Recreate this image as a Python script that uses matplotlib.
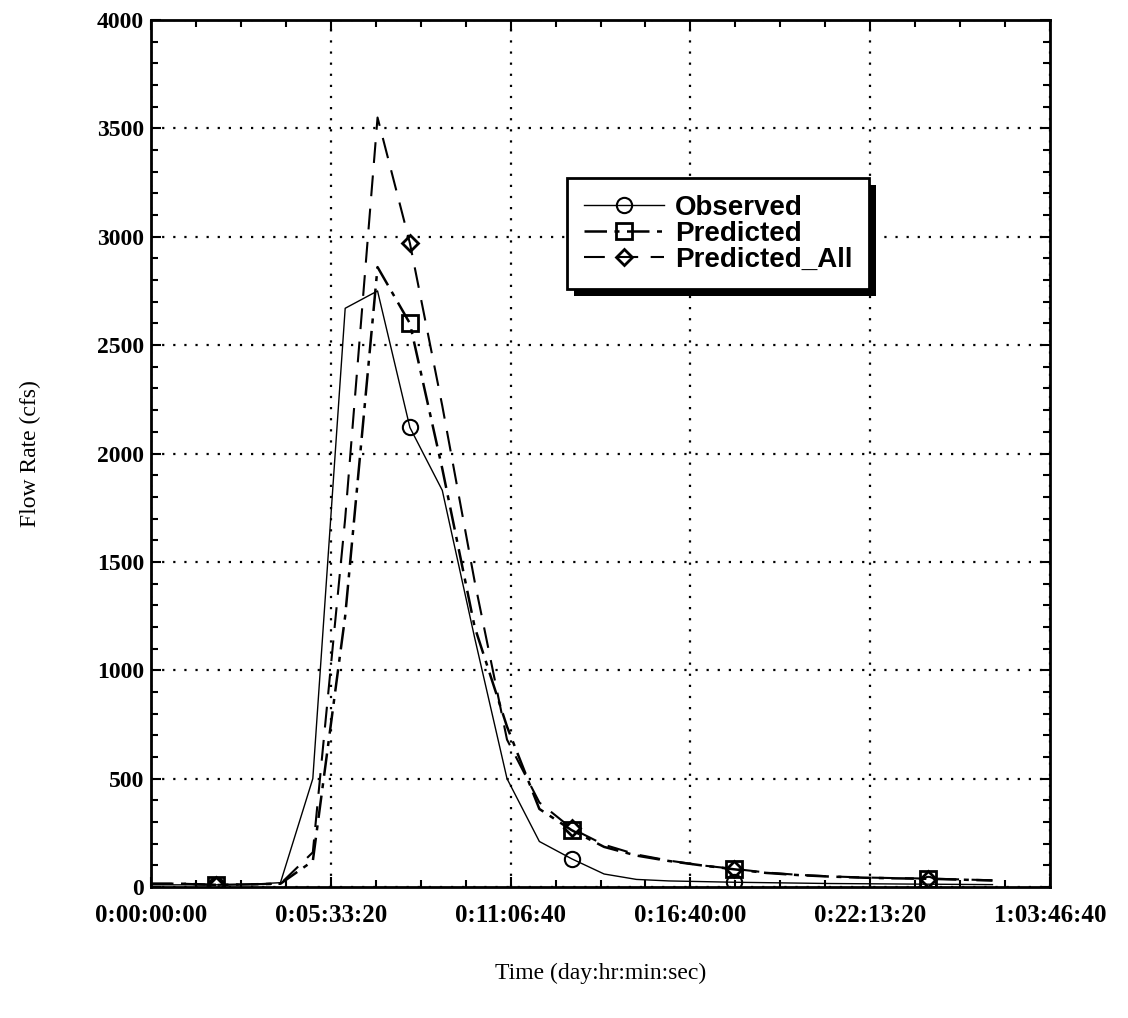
import matplotlib
matplotlib.use("Agg")
import matplotlib.pyplot as plt
from matplotlib.patches import Rectangle
from matplotlib.ticker import MultipleLocator

# ---- data (time in seconds, flow in cfs) ----
time_s = [0, 3600, 7200, 10800, 14400, 18000, 21600, 25200, 28800, 32400,
          36000, 39600, 43200, 46800, 50400, 54000, 57600, 61200, 64800,
          68400, 72000, 75600, 79200, 82800, 86400, 90000, 93600]
observed = [10, 10, 10, 12, 20, 500, 2670, 2750, 2120, 1830,
            1150, 500, 210, 130, 60, 35, 28, 25, 22,
            20, 18, 16, 15, 14, 13, 12, 11]
predicted = [15, 15, 10, 12, 15, 120, 1250, 2860, 2600, 1930,
             1200, 740, 360, 262, 185, 145, 120, 100, 82,
             65, 55, 48, 43, 40, 38, 34, 30]
predicted_all = [15, 15, 10, 12, 15, 160, 1700, 3550, 2970, 2220,
                 1410, 680, 390, 270, 195, 150, 122, 100, 84,
                 67, 56, 49, 44, 41, 39, 35, 31]
marker_idx = [2, 8, 13, 18, 24]

x_ticks = [0, 20000, 40000, 60000, 80000, 100000]
x_tick_labels = ["0:00:00:00", "0:05:33:20", "0:11:06:40", "0:16:40:00",
                 "0:22:13:20", "1:03:46:40"]
y_ticks = [0, 500, 1000, 1500, 2000, 2500, 3000, 3500, 4000]

fig = plt.figure(figsize=(11.28, 10.18), dpi=100)
ax = fig.add_axes([151/1128, 1-887/1018, 899/1128, 867/1018])

ax.plot(time_s, observed, color="k", lw=1.0, ls="-",
        marker="o", ms=11, mfc="none", mec="k", mew=1.5,
        markevery=marker_idx, label="Observed", zorder=3)
ax.plot(time_s, predicted, color="k", lw=1.8, ls=(0, (9, 3, 2, 3)),
        marker="s", ms=12, mfc="none", mec="k", mew=2,
        markevery=marker_idx, label="Predicted", zorder=3)
ax.plot(time_s, predicted_all, color="k", lw=1.5, ls=(0, (10, 6)),
        marker="D", ms=8, mfc="none", mec="k", mew=2,
        markevery=marker_idx, label="Predicted_All", zorder=3)

ax.set_xlim(0, 100000)
ax.set_ylim(0, 4000)
ax.set_xticks(x_ticks)
ax.set_xticklabels(x_tick_labels)
ax.set_yticks(y_ticks)
ax.xaxis.set_minor_locator(MultipleLocator(5000))
ax.yaxis.set_minor_locator(MultipleLocator(100))

ax.grid(True, which="major", color="k", ls=(0, (1, 4)), lw=1.6)
ax.tick_params(which="both", direction="in", top=True, right=True, color="k", width=1.5)
ax.tick_params(which="major", length=7)
ax.tick_params(which="minor", length=5)
ax.tick_params(axis="x", pad=12)
ax.tick_params(axis="y", pad=5)
for lab in ax.get_xticklabels():
    lab.set_fontfamily("Liberation Serif")
    lab.set_fontweight("bold")
    lab.set_fontsize(18)
for lab in ax.get_yticklabels():
    lab.set_fontfamily("Liberation Serif")
    lab.set_fontweight("bold")
    lab.set_fontsize(17)
for sp in ax.spines.values():
    sp.set_linewidth(2)

ax.set_xlabel("Time (day:hr:min:sec)", fontfamily="Liberation Serif",
              fontsize=17, labelpad=26)
ax.set_ylabel("Flow Rate (cfs)", fontfamily="Liberation Serif",
              fontsize=17, labelpad=40)

leg = ax.legend(loc="upper left", bbox_to_anchor=(0.4627, 0.8178),
                borderaxespad=0, frameon=True, fancybox=False,
                prop={"family": "Liberation Sans", "weight": "bold", "size": 20},
                handlelength=2.9, handletextpad=0.4, labelspacing=0.0,
                borderpad=0.6)
leg.get_frame().set_edgecolor("k")
leg.get_frame().set_linewidth(2)
leg.get_frame().set_alpha(1)
leg.set_zorder(20)

fig.canvas.draw()
bb = leg.get_window_extent()
inv = ax.transAxes.inverted()
(x0, y0) = inv.transform((bb.x0 + 7, bb.y0 - 7))
(x1, y1) = inv.transform((bb.x1 + 7, bb.y1 - 7))
sh = Rectangle((x0, y0), x1 - x0, y1 - y0, transform=ax.transAxes,
               facecolor="k", edgecolor="none", zorder=19, clip_on=False)
ax.add_patch(sh)

fig.savefig("out.png", dpi=100)
